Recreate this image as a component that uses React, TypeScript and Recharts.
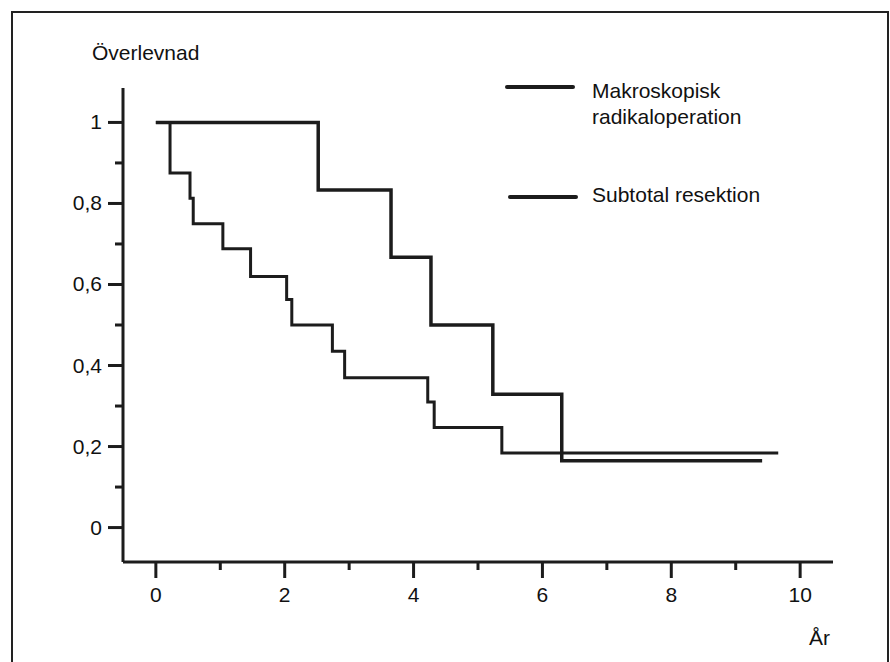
import { LineChart, Line, XAxis, YAxis, Legend, Label } from 'recharts';

// time in years vs survival fraction
const macroTime = [0, 2.52, 3.65, 4.27, 5.23, 6.3, 9.41];
const macroSurv = [1, 0.833, 0.667, 0.5, 0.329, 0.165, 0.165];

const subTime = [0, 0.22, 0.53, 0.58, 1.04, 1.47, 2.03, 2.11, 2.74, 2.93, 4.22, 4.32, 5.37, 9.66];
const subSurv = [1, 0.875, 0.813, 0.75, 0.688, 0.62, 0.563, 0.5, 0.435, 0.37, 0.31, 0.247, 0.184, 0.184];

const yTicks = [0, 0.1, 0.2, 0.3, 0.4, 0.5, 0.6, 0.7, 0.8, 0.9, 1];
const yMajor = [0, 0.2, 0.4, 0.6, 0.8, 1];
const xTicks = [0, 1, 2, 3, 4, 5, 6, 7, 8, 9, 10];
const xMajor = [0, 2, 4, 6, 8, 10];

const macroData = macroTime.map((t, i) => ({ t, s: macroSurv[i] }));
const subData = subTime.map((t, i) => ({ t, s: subSurv[i] }));

const INK = '#1c1c1c';
const FONT = 'Liberation Sans, Arial, sans-serif';
const FS = 21;

const YTick = (props: any) => {
  const { x, y, payload } = props;
  const v = payload.value;
  const major = yMajor.includes(v);
  return (
    <g>
      <line x1={x - (major ? 15 : 8)} x2={x} y1={y} y2={y} stroke={INK} strokeWidth={3} />
      {major && (
        <text x={x - 21} y={y + 7} textAnchor="end" fontSize={FS} fontFamily={FONT} fill="#111">
          {String(v).replace('.', ',')}
        </text>
      )}
    </g>
  );
};

const XTick = (props: any) => {
  const { x, y, payload } = props;
  const v = payload.value;
  const major = xMajor.includes(v);
  return (
    <g>
      <line x1={x} x2={x} y1={y} y2={y + (major ? 16 : 8)} stroke={INK} strokeWidth={3} />
      {major && (
        <text x={x} y={y + 40} textAnchor="middle" fontSize={FS} fontFamily={FONT} fill="#111">
          {v}
        </text>
      )}
    </g>
  );
};

const LegendBox = () => (
  <div style={{ position: 'relative', width: 300, height: 150, fontFamily: FONT, fontSize: FS, lineHeight: '26px', color: '#111' }}>
    <div style={{ position: 'absolute', left: 0, top: 15, width: 70, height: 4, background: INK, borderRadius: 2 }} />
    <div style={{ position: 'absolute', left: 87, top: 8, width: 175 }}>Makroskopisk radikaloperation</div>
    <div style={{ position: 'absolute', left: 3, top: 125, width: 70, height: 3.5, background: INK, borderRadius: 2 }} />
    <div style={{ position: 'absolute', left: 87, top: 112, whiteSpace: 'nowrap' }}>Subtotal resektion</div>
  </div>
);

export default function App() {
  return (
    <div style={{ position: 'absolute', left: 0, top: 0, width: 890, height: 662, background: '#fff', overflow: 'hidden' }}>
      <div
        style={{
          position: 'absolute', left: 11, top: 11, width: 874, height: 660,
          borderTop: '2px solid #222', borderLeft: '2px solid #222', borderRight: '2px solid #222',
        }}
      />
      <div style={{ position: 'absolute', left: 0, top: 0 }}>
        <LineChart width={890} height={662} margin={{ top: 88, right: 57, bottom: 70, left: 63 }}>
          <XAxis
            type="number"
            dataKey="t"
            domain={[-0.51, 10.51]}
            ticks={xTicks}
            interval={0}
            tickSize={0}
            tickMargin={0}
            tickLine={false}
            tick={<XTick />}
            axisLine={{ stroke: INK, strokeWidth: 3 }}
            allowDuplicatedCategory={false}
          >
            <Label
              content={() => (
                <text x={809} y={645} fontSize={FS} fontFamily={FONT} fill="#111">År</text>
              )}
            />
          </XAxis>
          <YAxis
            type="number"
            width={60}
            domain={[-0.085, 1.085]}
            ticks={yTicks}
            interval={0}
            tickSize={0}
            tickMargin={0}
            tickLine={false}
            tick={<YTick />}
            axisLine={{ stroke: INK, strokeWidth: 3 }}
          >
            <Label
              content={() => (
                <text x={92} y={60} fontSize={FS} fontFamily={FONT} fill="#111">Överlevnad</text>
              )}
            />
          </YAxis>
          <Legend
            layout="vertical"
            align="center"
            verticalAlign="middle"
            content={<LegendBox />}
            wrapperStyle={{ position: 'absolute', left: 505, top: 70, width: 300, height: 150 }}
          />
          <Line
            name="Makroskopisk radikaloperation"
            data={macroData}
            dataKey="s"
            type="stepAfter"
            stroke={INK}
            strokeWidth={3.5}
            dot={false}
            activeDot={false}
            isAnimationActive={false}
          />
          <Line
            name="Subtotal resektion"
            data={subData}
            dataKey="s"
            type="stepAfter"
            stroke={INK}
            strokeWidth={3}
            dot={false}
            activeDot={false}
            isAnimationActive={false}
          />
        </LineChart>
      </div>
    </div>
  );
}
